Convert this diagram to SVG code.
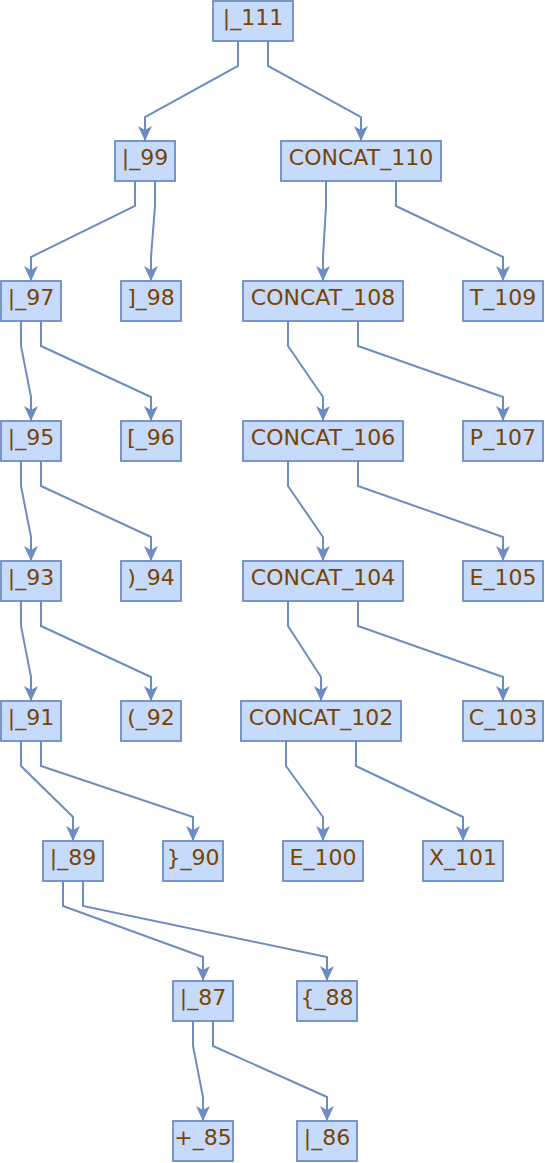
<svg xmlns="http://www.w3.org/2000/svg" width="545" height="1163" viewBox="0 0 545 1163">
<style>
.n rect{fill:#c6dafb;stroke:#6c8cc2;stroke-width:1.8}
.n text{font-family:"DejaVu Sans",sans-serif;font-size:22px;fill:#7a4300;text-anchor:middle}
.e path{fill:none;stroke:#6c8cc2;stroke-width:2;marker-end:url(#arr)}
</style>
<defs>
<marker id="arr" viewBox="-16 -8 17 16" refX="0" refY="0" markerWidth="17" markerHeight="16" markerUnits="userSpaceOnUse" orient="auto">
<path d="M0,0 L-15,-7 L-11,0 L-15,7 Z" fill="#6c8cc2"/>
</marker>
</defs>
<g id="edges" class="e">
<path d="M238,41 V66 L145,117 V141"/>
<path d="M268,41 V66 L361,117 V141"/>
<path d="M135,181 V206 L31,257 V281"/>
<path d="M155,181 V206 L151,257 V281"/>
<path d="M326,181 V206 L323,257 V281"/>
<path d="M396,181 V206 L503,257 V281"/>
<path d="M21,321 V346 L31,397 V421"/>
<path d="M41,321 V346 L151,397 V421"/>
<path d="M288,321 V346 L323,397 V421"/>
<path d="M358,321 V346 L503,397 V421"/>
<path d="M21,461 V486 L31,537 V561"/>
<path d="M41,461 V486 L151,537 V561"/>
<path d="M288,461 V486 L323,537 V561"/>
<path d="M358,461 V486 L503,537 V561"/>
<path d="M21,601 V626 L31,677 V701"/>
<path d="M41,601 V626 L151,677 V701"/>
<path d="M288,601 V626 L321,677 V701"/>
<path d="M358,601 V626 L503,677 V701"/>
<path d="M21,741 V766 L73,817 V841"/>
<path d="M41,741 V766 L193,817 V841"/>
<path d="M286,741 V766 L323,817 V841"/>
<path d="M356,741 V766 L463,817 V841"/>
<path d="M63,881 V906 L203,957 V981"/>
<path d="M83,881 V906 L327,957 V981"/>
<path d="M193,1021 V1046 L203,1097 V1121"/>
<path d="M213,1021 V1046 L327,1097 V1121"/>
</g>
<g id="n111" class="n"><rect x="213" y="1" width="80" height="40"/><text x="253" y="25">|_111</text></g>
<g id="n99" class="n"><rect x="115" y="141" width="60" height="40"/><text x="145" y="165">|_99</text></g>
<g id="n110" class="n"><rect x="281" y="141" width="160" height="40"/><text x="361" y="165">CONCAT_110</text></g>
<g id="n97" class="n"><rect x="1" y="281" width="60" height="40"/><text x="31" y="305">|_97</text></g>
<g id="n98" class="n"><rect x="121" y="281" width="60" height="40"/><text x="151" y="305">]_98</text></g>
<g id="n108" class="n"><rect x="243" y="281" width="160" height="40"/><text x="323" y="305">CONCAT_108</text></g>
<g id="n109" class="n"><rect x="463" y="281" width="80" height="40"/><text x="503" y="305">T_109</text></g>
<g id="n95" class="n"><rect x="1" y="421" width="60" height="40"/><text x="31" y="445">|_95</text></g>
<g id="n96" class="n"><rect x="121" y="421" width="60" height="40"/><text x="151" y="445">[_96</text></g>
<g id="n106" class="n"><rect x="243" y="421" width="160" height="40"/><text x="323" y="445">CONCAT_106</text></g>
<g id="n107" class="n"><rect x="463" y="421" width="80" height="40"/><text x="503" y="445">P_107</text></g>
<g id="n93" class="n"><rect x="1" y="561" width="60" height="40"/><text x="31" y="585">|_93</text></g>
<g id="n94" class="n"><rect x="121" y="561" width="60" height="40"/><text x="151" y="585">)_94</text></g>
<g id="n104" class="n"><rect x="243" y="561" width="160" height="40"/><text x="323" y="585">CONCAT_104</text></g>
<g id="n105" class="n"><rect x="463" y="561" width="80" height="40"/><text x="503" y="585">E_105</text></g>
<g id="n91" class="n"><rect x="1" y="701" width="60" height="40"/><text x="31" y="725">|_91</text></g>
<g id="n92" class="n"><rect x="121" y="701" width="60" height="40"/><text x="151" y="725">(_92</text></g>
<g id="n102" class="n"><rect x="241" y="701" width="160" height="40"/><text x="321" y="725">CONCAT_102</text></g>
<g id="n103" class="n"><rect x="463" y="701" width="80" height="40"/><text x="503" y="725">C_103</text></g>
<g id="n89" class="n"><rect x="43" y="841" width="60" height="40"/><text x="73" y="865">|_89</text></g>
<g id="n90" class="n"><rect x="163" y="841" width="60" height="40"/><text x="193" y="865">}_90</text></g>
<g id="n100" class="n"><rect x="283" y="841" width="80" height="40"/><text x="323" y="865">E_100</text></g>
<g id="n101" class="n"><rect x="423" y="841" width="80" height="40"/><text x="463" y="865">X_101</text></g>
<g id="n87" class="n"><rect x="173" y="981" width="60" height="40"/><text x="203" y="1005">|_87</text></g>
<g id="n88" class="n"><rect x="297" y="981" width="60" height="40"/><text x="327" y="1005">{_88</text></g>
<g id="n85" class="n"><rect x="173" y="1121" width="60" height="40"/><text x="203" y="1145">+_85</text></g>
<g id="n86" class="n"><rect x="297" y="1121" width="60" height="40"/><text x="327" y="1145">|_86</text></g>
</svg>
